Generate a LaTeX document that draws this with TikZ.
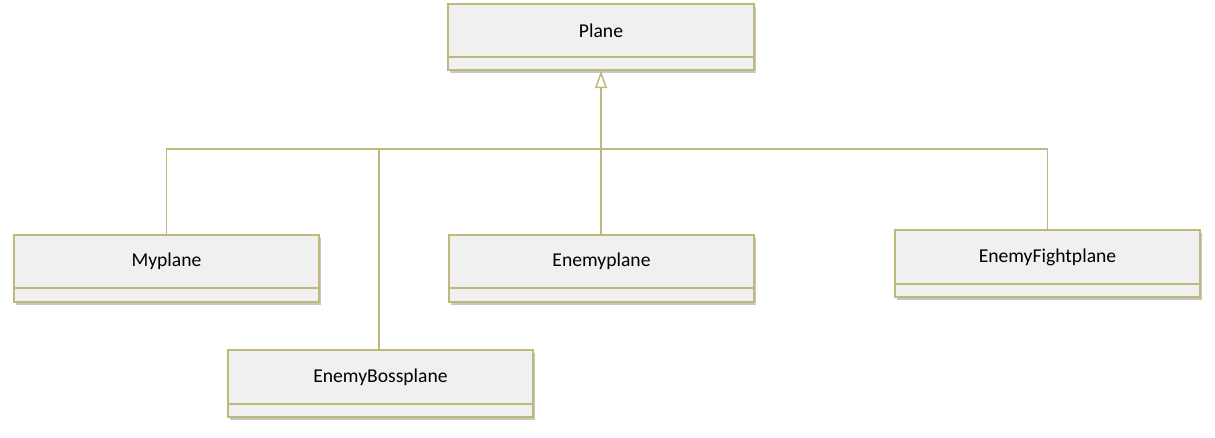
\documentclass[tikz,border=0pt]{standalone}
\usepackage{fontspec}
\setmainfont{Carlito}
\usetikzlibrary{arrows.meta,shadows}
\definecolor{umlline}{RGB}{190,184,124}
\definecolor{umlfill}{RGB}{240,240,240}
\tikzset{
  classbox/.style={draw=umlline, line width=2pt, fill=umlfill, rectangle,
    minimum width=305pt, minimum height=67pt, inner sep=0pt,
    drop shadow={shadow xshift=2pt, shadow yshift=-3pt, opacity=0.22, fill=black}},
  lbl/.style={font=\fontsize{19.6}{22}\selectfont, text=black, inner sep=0pt},
  conn/.style={draw=umlline, line width=1.6pt},
  divider/.style={draw=umlline, line width=2pt}
}
\begin{document}
\begin{tikzpicture}[x=1pt,y=-1pt]
\useasboundingbox (0,0) rectangle (1215,437);
% classes
\node[classbox, minimum width=306pt, minimum height=66pt] (plane) at (601,37) {};
\node[classbox] (my) at (166.5,268) {};
\node[classbox] (enemy) at (601.5,268) {};
\node[classbox] (fight) at (1047.5,263.5) {};
\node[classbox] (boss) at (380.5,383.5) {};
% dividers
\foreach \n in {plane,my,enemy,fight,boss}{
  \draw[divider] ([yshift=14.5pt]\n.south west) -- ([yshift=14.5pt]\n.south east);
}
% labels
\node[lbl] (planeT) at ([yshift=-28pt]plane.north) {Plane};
\node[lbl] (myT) at ([yshift=-28pt]my.north) {Myplane};
\node[lbl] (enemyT) at ([yshift=-28pt]enemy.north) {Enemyplane};
\node[lbl] (fightT) at ([yshift=-28pt]fight.north) {EnemyFightplane};
\node[lbl] (bossT) at ([yshift=-28pt]boss.north) {EnemyBossplane};
% bus
\coordinate (bus) at (601,149);
\draw[conn] (my.north) -- (my.north |- bus) -- (fight.north |- bus) -- (fight.north);
\draw[conn] ([xshift=-1.5pt]boss.north) -- ([xshift=-1.5pt]boss.north |- bus);
\draw[conn] (enemy.north -| plane.south) -- (bus);
\draw[conn, -{Triangle[open, length=17pt, width=12pt, line width=1.5pt]}] (bus) -- (plane.south);
\end{tikzpicture}
\end{document}
